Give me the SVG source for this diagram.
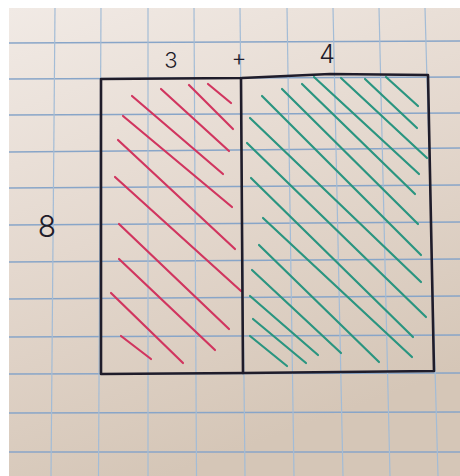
<svg xmlns="http://www.w3.org/2000/svg" width="460" height="476" viewBox="0 0 460 476">
<defs>
<linearGradient id="paper" x1="0" y1="0" x2="0.35" y2="1">
<stop offset="0" stop-color="#f1eae5"/>
<stop offset="0.5" stop-color="#e4d8ce"/>
<stop offset="1" stop-color="#d5c6b7"/>
</linearGradient>
</defs>
<style>
.h{stroke:#88a5c8;stroke-width:1.5;fill:none}
.v{stroke:#a3bcd6;stroke-width:1.2;fill:none}
.ink{stroke:#1f1c2a;stroke-width:2.6;fill:none;stroke-linejoin:round;stroke-linecap:round}
.red line{stroke:#d1355f;stroke-width:2.2;stroke-linecap:round}
.grn line{stroke:#2a9580;stroke-width:2.2;stroke-linecap:round}
.lbl{font-family:Inter,"DejaVu Sans","Liberation Sans",sans-serif;font-weight:300;fill:#1f1c2a;text-anchor:middle}
</style>
<rect x="0" y="0" width="460" height="476" fill="#ffffff"/>
<g id="paper-sheet">
<rect x="9" y="8" width="451" height="468" fill="url(#paper)"/>
<g id="grid">
<line class="h" x1="9" y1="43" x2="460" y2="41"/>
<line class="h" x1="9" y1="79" x2="460" y2="77"/>
<line class="h" x1="9" y1="115" x2="460" y2="113"/>
<line class="h" x1="9" y1="152" x2="460" y2="148"/>
<line class="h" x1="9" y1="188" x2="460" y2="185"/>
<line class="h" x1="9" y1="225" x2="460" y2="222"/>
<line class="h" x1="9" y1="262" x2="460" y2="259"/>
<line class="h" x1="9" y1="299" x2="460" y2="296"/>
<line class="h" x1="9" y1="337" x2="460" y2="335"/>
<line class="h" x1="9" y1="374" x2="460" y2="373"/>
<line class="h" x1="9" y1="413" x2="460" y2="412"/>
<line class="h" x1="9" y1="452" x2="460" y2="452"/>
<line class="v" x1="55" y1="8" x2="51" y2="476"/>
<line class="v" x1="101" y1="8" x2="98.5" y2="476"/>
<line class="v" x1="148" y1="8" x2="148" y2="476"/>
<line class="v" x1="194" y1="8" x2="196.5" y2="476"/>
<line class="v" x1="240" y1="8" x2="245" y2="476"/>
<line class="v" x1="287" y1="8" x2="294" y2="476"/>
<line class="v" x1="333" y1="8" x2="343" y2="476"/>
<line class="v" x1="379" y1="8" x2="390" y2="476"/>
<line class="v" x1="425" y1="8" x2="438" y2="476"/>
</g>
</g>
<g id="hatch-3" class="red">
<line x1="208" y1="84" x2="231" y2="103"/>
<line x1="189" y1="85" x2="233" y2="129"/>
<line x1="161" y1="89" x2="229" y2="151"/>
<line x1="132" y1="96" x2="223" y2="174"/>
<line x1="123" y1="116" x2="232" y2="207"/>
<line x1="118" y1="140" x2="235" y2="249"/>
<line x1="115" y1="177" x2="241" y2="291"/>
<line x1="119" y1="224" x2="229" y2="329"/>
<line x1="119" y1="259" x2="215" y2="350"/>
<line x1="111" y1="293" x2="183" y2="363"/>
<line x1="121" y1="336" x2="151" y2="359"/>
</g>
<g id="hatch-4" class="grn">
<line x1="386" y1="77" x2="418" y2="106"/>
<line x1="365" y1="79" x2="417" y2="128"/>
<line x1="341" y1="78" x2="427" y2="158"/>
<line x1="314" y1="77" x2="419" y2="174"/>
<line x1="302" y1="84" x2="415" y2="194"/>
<line x1="282" y1="89" x2="418" y2="224"/>
<line x1="262" y1="96" x2="421" y2="255"/>
<line x1="250" y1="118" x2="421" y2="282"/>
<line x1="247" y1="143" x2="426" y2="317"/>
<line x1="251" y1="178" x2="413" y2="337"/>
<line x1="263" y1="218" x2="412" y2="357"/>
<line x1="259" y1="245" x2="379" y2="362"/>
<line x1="252" y1="270" x2="341" y2="353"/>
<line x1="250" y1="296" x2="318" y2="355"/>
<line x1="253" y1="319" x2="306" y2="363"/>
<line x1="250" y1="336" x2="287" y2="366"/>
</g>
<g id="area-rectangle">
<path class="ink" d="M101,79 L242,78 L330,74 L428,75 L434,371 L244,373 L101,374 Z"/>
<path class="ink" d="M241,78 L243,373"/>
</g>
<g id="labels">
<text class="lbl" x="171" y="68" font-size="22">3</text>
<text class="lbl" x="239" y="66" font-size="23">+</text>
<text class="lbl" x="327" y="63" font-size="25">4</text>
<text class="lbl" x="47" y="237" font-size="30">8</text>
</g>
</svg>
